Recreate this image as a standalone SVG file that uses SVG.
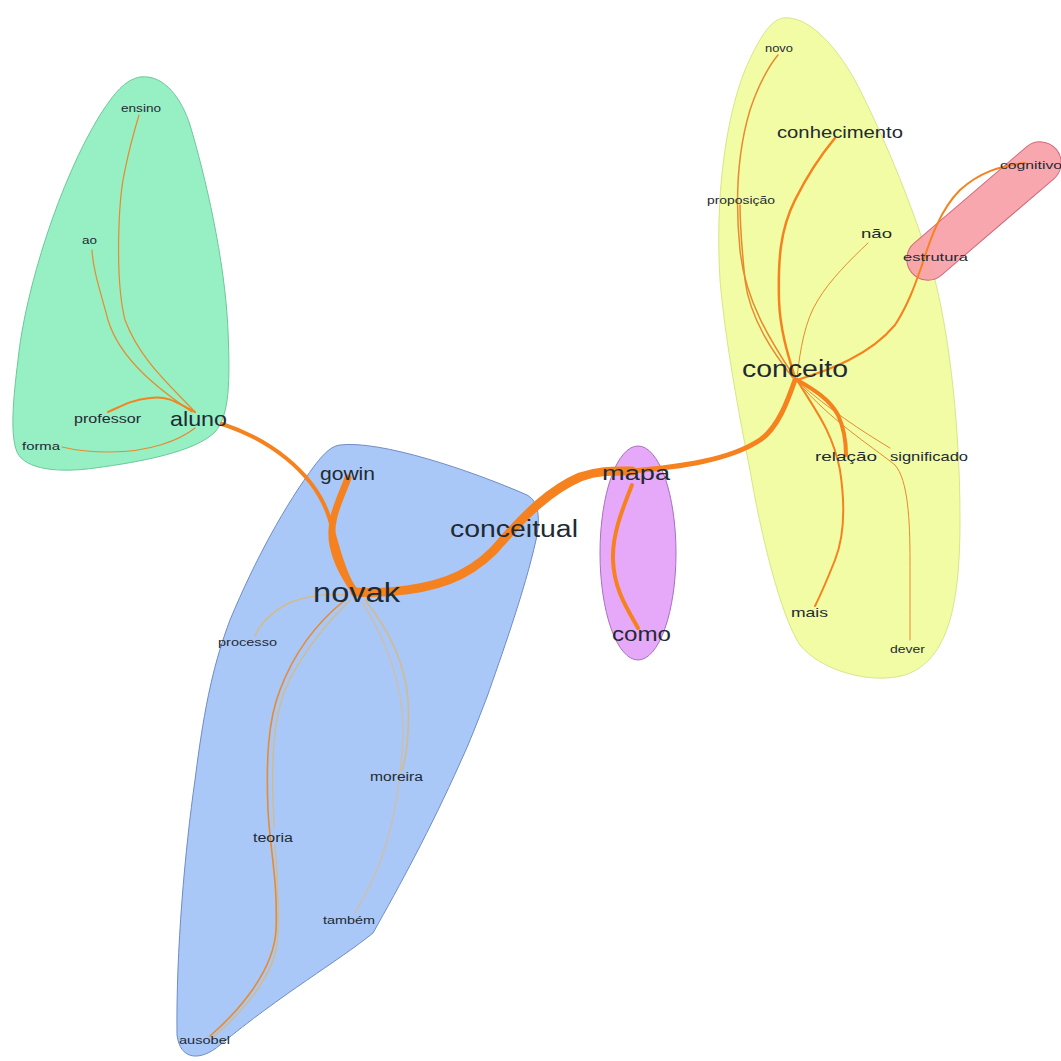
<svg xmlns="http://www.w3.org/2000/svg" width="1061" height="1061" viewBox="0 0 1061 1061">
  <style>
    .hull { stroke-width: 1; }
    .lbl { font-family: "Liberation Sans", Arial, sans-serif; fill: #1f2a33; }
    .e { fill: none; stroke-linecap: round; }
    .o { stroke: #f5821f; }
    .ot { stroke: #e88a2e; }
    .tan { stroke: #d2bb8c; }
    .gray { stroke: #c9bfb3; }
  </style>

  <!-- community hulls -->
  <g id="hulls">
    <path id="hull-green" class="hull" fill="#96f0c4" stroke="#6cc89a"
          d="M 140 77 C 165 74, 182 100, 190 125 C 205 175, 225 260, 228 330 C 230 380, 230 415, 215 432 C 195 452, 140 462, 95 468 C 60 473, 25 470, 17 452 C 10 435, 13 400, 18 360 C 25 290, 60 180, 100 115 C 115 92, 125 80, 140 77 Z"/>
    <path id="hull-blue" class="hull" fill="#a9c8f8" stroke="#6f8cc4"
          d="M 340 445 C 380 440, 470 470, 527 495 C 540 502, 540 520, 536 540 C 525 590, 500 660, 487 697 C 478 720, 470 742, 460 763 C 430 830, 400 885, 373 933 C 340 960, 280 995, 220 1045 C 200 1062, 180 1060, 177 1035 C 176 950, 185 850, 195 780 C 205 700, 215 660, 230 620 C 255 560, 285 505, 315 465 C 325 452, 332 446, 340 445 Z"/>
    <ellipse id="hull-purple" class="hull" cx="638" cy="553" rx="38" ry="107" fill="#e6a8f8" stroke="#a870c0"/>
    <path id="hull-yellow" class="hull" fill="#f1fca4" stroke="#dce488"
          d="M 783 18 C 810 15, 840 50, 860 90 C 885 140, 915 210, 935 280 C 950 340, 960 430, 960 520 C 960 600, 950 660, 905 675 C 870 685, 820 670, 800 645 C 780 615, 760 530, 750 470 C 740 420, 725 340, 720 280 C 715 200, 725 120, 745 70 C 758 40, 770 20, 783 18 Z"/>
    <rect id="hull-red" class="hull" x="-95" y="-21" width="190" height="42" rx="21" ry="21"
          fill="#f7a0a8" fill-opacity="0.92" stroke="#d06a78" transform="translate(984 211) rotate(-40.6)"/>
  </g>

  <!-- connectors -->
  <g id="edges">
    <!-- green community -->
    <path class="e ot" stroke-width="1.2" d="M 195 412 C 170 385, 140 360, 125 320 C 115 280, 118 200, 125 170 C 130 145, 136 125, 139 115"/>
    <path class="e ot" stroke-width="1.2" d="M 192 412 C 160 390, 120 360, 108 320 C 100 290, 93 270, 92 250"/>
    <path class="e o" stroke-width="2" d="M 195 412 C 180 405, 170 395, 150 398 C 130 400, 120 407, 108 412"/>
    <path class="e ot" stroke-width="1.2" d="M 195 428 C 180 440, 150 452, 110 452 C 85 452, 70 449, 62 447"/>

    <!-- blue community -->
    <path class="e tan" stroke-width="1.6" d="M 345 595 C 320 593, 295 598, 280 608 C 265 618, 258 628, 255 636"/>
    <path class="e tan" stroke-width="1.4" d="M 350 600 C 325 625, 300 655, 285 690 C 273 720, 272 760, 273 800 C 274 815, 274 825, 274 828"/>
    <path class="e tan" stroke-width="1.4" d="M 275 845 C 278 880, 280 930, 276 950 C 270 980, 240 1015, 212 1038"/>
    <path class="e ot" stroke-width="1.6" d="M 345 600 C 320 620, 295 650, 280 690 C 268 720, 266 760, 268 810 C 270 850, 278 880, 276 930 C 274 970, 240 1010, 210 1036"/>
    <path class="e tan" stroke-width="1.6" d="M 365 600 C 385 625, 405 660, 408 700 C 410 730, 406 760, 402 770"/>
    <path class="e gray" stroke-width="1.6" d="M 362 602 C 380 630, 398 670, 402 710 C 405 740, 400 790, 390 830 C 380 870, 365 895, 355 913"/>

    <!-- yellow / red communities -->
    <path class="e ot" stroke-width="1.5" d="M 793 375 C 770 340, 745 300, 740 250 C 735 200, 738 150, 750 110 C 760 80, 772 62, 778 55"/>
    <path class="e ot" stroke-width="1.5" d="M 793 378 C 775 355, 750 320, 745 280 C 742 250, 740 225, 740 205"/>
    <path class="e o" stroke-width="2.5" d="M 795 378 C 788 355, 780 330, 779 300 C 778 260, 780 230, 795 200 C 810 170, 825 150, 835 138"/>
    <path class="e ot" stroke-width="1" d="M 797 378 C 800 350, 805 320, 818 300 C 830 280, 850 260, 868 243"/>
    <path class="e o" stroke-width="2" d="M 797 380 C 830 370, 870 355, 895 325 C 908 305, 915 285, 922 265"/>
    <path class="e o" stroke-width="2" d="M 922 265 C 930 240, 940 210, 960 190 C 980 172, 1000 166, 1025 163"/>
    <path class="e ot" stroke-width="1" d="M 798 382 C 830 410, 860 430, 890 448"/>
    <path class="e ot" stroke-width="1" d="M 798 382 C 830 420, 870 445, 895 465 C 908 480, 910 520, 910 560 C 910 600, 910 625, 910 640"/>
    <path class="e o" stroke-width="2" d="M 797 380 C 815 410, 832 430, 840 470 C 846 510, 843 540, 835 560 C 825 585, 818 600, 815 606"/>
    <path class="e o" stroke-width="4" d="M 797 380 C 815 390, 830 400, 838 415 C 845 430, 846 445, 846 455"/>

    <!-- backbone -->
    <path class="e o" stroke-width="4" d="M 222 424 C 265 438, 315 470, 330 520 C 338 550, 345 575, 355 590"/>
    <path class="e o" stroke-width="7" d="M 348 478 C 340 500, 328 520, 333 545 C 337 565, 347 580, 355 592"/>
    <path class="e o" stroke-width="9" d="M 355 592 C 385 594, 430 590, 460 575 C 480 565, 495 550, 503 540"/>
    <path class="e o" stroke-width="9" d="M 503 540 C 525 515, 550 490, 580 477 C 600 470, 615 471, 632 471"/>
    <path class="e o" stroke-width="5" d="M 632 471 C 680 467, 730 460, 760 440 C 778 428, 788 400, 795 380"/>
    <path class="e o" stroke-width="4" d="M 632 485 C 622 510, 612 535, 613 560 C 614 590, 628 610, 638 628"/>
  </g>

  <!-- word nodes -->
  <g id="n-ensino"><text class="lbl" x="121" y="112" font-size="10" textLength="40" lengthAdjust="spacingAndGlyphs">ensino</text></g>
  <g id="n-ao"><text class="lbl" x="82" y="244" font-size="11" textLength="15" lengthAdjust="spacingAndGlyphs">ao</text></g>
  <g id="n-professor"><text class="lbl" x="74" y="423" font-size="12" textLength="67" lengthAdjust="spacingAndGlyphs">professor</text></g>
  <g id="n-aluno"><text class="lbl" x="170" y="426" font-size="21" textLength="57" lengthAdjust="spacingAndGlyphs">aluno</text></g>
  <g id="n-forma"><text class="lbl" x="22" y="450" font-size="11" textLength="38" lengthAdjust="spacingAndGlyphs">forma</text></g>

  <g id="n-gowin"><text class="lbl" x="320" y="480" font-size="18" textLength="55" lengthAdjust="spacingAndGlyphs">gowin</text></g>
  <g id="n-novak"><text class="lbl" x="313" y="602" font-size="27" textLength="87" lengthAdjust="spacingAndGlyphs">novak</text></g>
  <g id="n-conceitual"><text class="lbl" x="450" y="537" font-size="23" textLength="128" lengthAdjust="spacingAndGlyphs">conceitual</text></g>
  <g id="n-processo"><text class="lbl" x="218" y="646" font-size="11" textLength="59" lengthAdjust="spacingAndGlyphs">processo</text></g>
  <g id="n-moreira"><text class="lbl" x="370" y="781" font-size="12" textLength="53" lengthAdjust="spacingAndGlyphs">moreira</text></g>
  <g id="n-teoria"><text class="lbl" x="253" y="842" font-size="12" textLength="40" lengthAdjust="spacingAndGlyphs">teoria</text></g>
  <g id="n-tambem"><text class="lbl" x="323" y="924" font-size="11" textLength="52" lengthAdjust="spacingAndGlyphs">também</text></g>
  <g id="n-ausobel"><text class="lbl" x="179" y="1044" font-size="11" textLength="51" lengthAdjust="spacingAndGlyphs">ausobel</text></g>

  <g id="n-mapa"><text class="lbl" x="602" y="480" font-size="20" textLength="68" lengthAdjust="spacingAndGlyphs">mapa</text></g>
  <g id="n-como"><text class="lbl" x="612" y="641" font-size="20" textLength="59" lengthAdjust="spacingAndGlyphs">como</text></g>

  <g id="n-novo"><text class="lbl" x="765" y="52" font-size="10" textLength="28" lengthAdjust="spacingAndGlyphs">novo</text></g>
  <g id="n-conhecimento"><text class="lbl" x="777" y="138" font-size="17" textLength="126" lengthAdjust="spacingAndGlyphs">conhecimento</text></g>
  <g id="n-proposicao"><text class="lbl" x="707" y="204" font-size="10" textLength="68" lengthAdjust="spacingAndGlyphs">proposição</text></g>
  <g id="n-nao"><text class="lbl" x="861" y="238" font-size="13" textLength="31" lengthAdjust="spacingAndGlyphs">não</text></g>
  <g id="n-estrutura"><text class="lbl" x="903" y="261" font-size="11" textLength="65" lengthAdjust="spacingAndGlyphs">estrutura</text></g>
  <g id="n-cognitivo"><text class="lbl" x="1000" y="169" font-size="11" textLength="62" lengthAdjust="spacingAndGlyphs">cognitivo</text></g>
  <g id="n-conceito"><text class="lbl" x="742" y="377" font-size="23" textLength="106" lengthAdjust="spacingAndGlyphs">conceito</text></g>
  <g id="n-relacao"><text class="lbl" x="815" y="461" font-size="13" textLength="62" lengthAdjust="spacingAndGlyphs">relação</text></g>
  <g id="n-significado"><text class="lbl" x="890" y="461" font-size="13" textLength="78" lengthAdjust="spacingAndGlyphs">significado</text></g>
  <g id="n-mais"><text class="lbl" x="791" y="617" font-size="13" textLength="37" lengthAdjust="spacingAndGlyphs">mais</text></g>
  <g id="n-dever"><text class="lbl" x="890" y="653" font-size="11" textLength="35" lengthAdjust="spacingAndGlyphs">dever</text></g>
</svg>
